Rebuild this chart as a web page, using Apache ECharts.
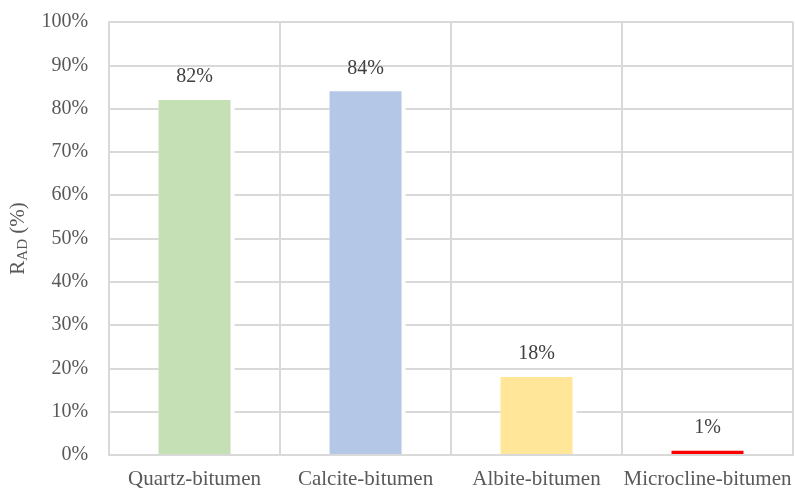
<!DOCTYPE html>
<html>
<head>
<meta charset="utf-8">
<script src="https://cdn.jsdelivr.net/npm/echarts@6/dist/echarts.min.js"></script>
<style>
  html, body { margin: 0; padding: 0; background: #fff; }
  #chart { width: 795px; height: 491px; }
</style>
</head>
<body>
<div id="chart"></div>
<script>
// Adhesion ratio for each mineral–bitumen pair
const categories = ['Quartz-bitumen', 'Calcite-bitumen', 'Albite-bitumen', 'Microcline-bitumen'];
const values = [82, 84, 18, 1];
const barColors = ['#c5e0b4', '#b4c7e7', '#ffe699', '#ff0000'];
const yTicks = [0, 10, 20, 30, 40, 50, 60, 70, 80, 90, 100];

const font = '"Liberation Serif", "Times New Roman", serif';
const textColor = '#595959';
const gridColor = '#d9d9d9';

const chart = echarts.init(document.getElementById('chart'), null, { renderer: 'canvas' });

chart.setOption({
  animation: false,
  backgroundColor: '#fff',
  textStyle: { fontFamily: font },
  grid: { left: 109, right: 2, top: 22, bottom: 36, containLabel: false },
  xAxis: {
    type: 'category',
    data: categories,
    z: 3,
    axisLine: { show: true, lineStyle: { color: gridColor, width: 2 } },
    axisTick: { show: false },
    axisLabel: { color: textColor, fontSize: 21, fontFamily: font, margin: 14, interval: 0 },
    splitLine: { show: true, interval: 0, lineStyle: { color: gridColor, width: 2 } }
  },
  yAxis: {
    type: 'value',
    min: yTicks[0],
    max: yTicks[yTicks.length - 1],
    interval: 10,
    name: '{r|R}{s|AD}{r| (%)}',
    nameLocation: 'middle',
    nameGap: 76,
    nameRotate: 90,
    nameTextStyle: {
      rich: {
        r: { fontSize: 21, color: textColor, fontFamily: font },
        s: { fontSize: 15, color: textColor, fontFamily: font, verticalAlign: 'bottom', padding: [9, 0, 0, 0] }
      }
    },
    axisLine: { show: true, lineStyle: { color: gridColor, width: 2 } },
    axisTick: { show: false },
    axisLabel: { color: textColor, fontSize: 20, fontFamily: font, margin: 21, formatter: '{value}%' },
    splitLine: { show: true, lineStyle: { color: gridColor, width: 2 } }
  },
  series: [
    {
      // white halo behind each bar so the gridlines stop short of it
      type: 'bar',
      barWidth: 76,
      barGap: '-100%',
      silent: true,
      itemStyle: { color: '#fff' },
      data: values
    },
    {
      type: 'bar',
      barWidth: 72,
      barGap: '-100%',
      data: values.map((v, i) => ({
        value: v,
        itemStyle: { color: barColors[i] }
      })),
      label: {
        show: true,
        position: 'top',
        distance: 13,
        formatter: '{c}%',
        color: '#404040',
        fontSize: 20,
        fontFamily: font
      }
    }
  ]
});
</script>
</body>
</html>
